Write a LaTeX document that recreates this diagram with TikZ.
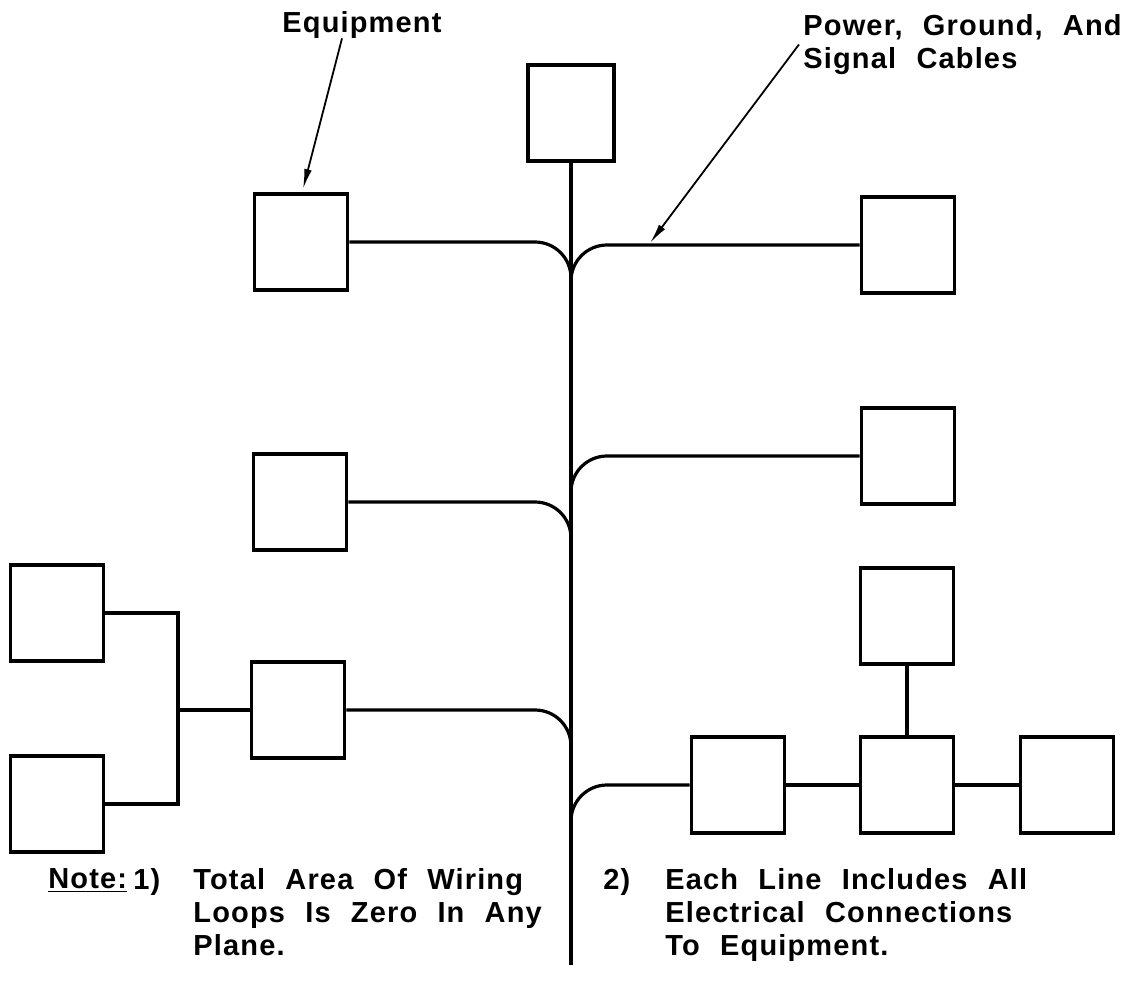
\documentclass[tikz,border=0pt]{standalone}
\usepackage{fontspec}
\usepackage{tikz}
\usetikzlibrary{arrows.meta}
\newfontfamily\lettering{Liberation Sans}[LetterSpace=4,WordSpace=2.2]

\begin{document}
\begin{tikzpicture}[
  x=0.5pt, y=-0.5pt,
  unit/.style={draw, line width=1.9pt, minimum width=46.5pt, minimum height=48pt, inner sep=0pt},
  cable/.style={line width=1.6pt},
  branch/.style={cable, rounded corners=18pt},
  pointer/.style={line width=0.9pt, -{Latex[length=10pt,width=3.8pt]}},
  lbl/.style={font=\lettering\bfseries\fontsize{14.5}{16.5}\selectfont, inner sep=0pt, align=left}
]
  \useasboundingbox (0,0) rectangle (1130,991);

  % equipment boxes
  \node[unit, minimum width=43pt] (top) at (571,113) {};
  \node[unit] (eqA) at (301,242) {};
  \node[unit] (eqB) at (908,245) {};
  \node[unit] (midR) at (908,456) {};
  \node[unit] (midL) at (300,502) {};
  \node[unit] (hub) at (298,710) {};
  \node[unit] (farA) at (57,613) {};
  \node[unit] (farB) at (57,804) {};
  \node[unit] (lowA) at (738,785) {};
  \node[unit] (lowB) at (907,785) {};
  \node[unit] (lowC) at (1067,785) {};
  \node[unit] (lowD) at (907,616) {};

  % trunk and where the branches join it
  \coordinate (base) at (571,965);
  \coordinate (j1) at (571,282);
  \coordinate (j2) at (571,493);
  \coordinate (j3) at (571,540);
  \coordinate (j4) at (571,748);
  \coordinate (j5) at (571,822);
  \coordinate (bus) at (178,710);

  \draw[cable] (top.south) -- (base);
  \draw[branch] (eqA.east) -| (j1);
  \draw[branch] (eqB.west) -| (j1);
  \draw[branch] (midR.west) -| (j2);
  \draw[branch] (midL.east) -| (j3);
  \draw[branch] (hub.east) -| (j4);
  \draw[branch] (lowA.west) -| (j5);
  \draw[cable] (farA.east) -| (bus) |- (farB.east);
  \draw[cable] (bus) -- (hub.west);
  \draw[cable] (lowA.east) -- (lowB.west);
  \draw[cable] (lowB.east) -- (lowC.west);
  \draw[cable] (lowD.south) -- (lowB.north);

  % labels
  \node[lbl, anchor=base west] (lblEquip) at (282,32) {Equipment};
  \coordinate (eqTip) at (303,189);
  \draw[pointer] ([xshift=30pt]lblEquip.south west) -- (eqTip);
  \node[lbl, anchor=north west] (lblCable) at (803,14) {Power, Ground, And\\Signal Cables};
  \coordinate (tap) at (650,243);
  \draw[pointer] ([xshift=-2pt]lblCable.west) -- (tap);

  % notes
  \node[lbl, anchor=north west] (lblNote) at (48,868) {\underline{Note:}};
  \node[lbl, anchor=north west] (n1) at (133,868) {1)};
  \node[lbl, anchor=north west] (note1) at (193,868) {Total Area Of Wiring\\Loops Is Zero In Any\\Plane.};
  \node[lbl, anchor=north west] (n2) at (603,868) {2)};
  \node[lbl, anchor=north west] (note2) at (665,868) {Each Line Includes All\\Electrical Connections\\To Equipment.};
\end{tikzpicture}
\end{document}
